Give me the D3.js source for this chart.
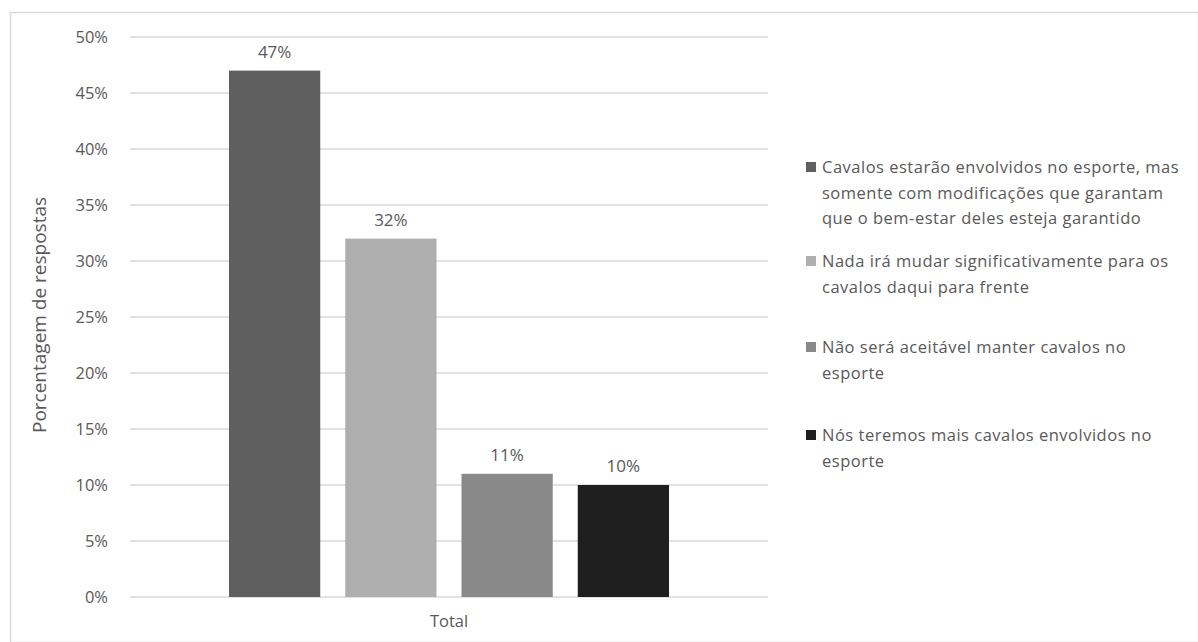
<!DOCTYPE html>
<html>
<head>
<meta charset="utf-8">
<script src="https://cdn.jsdelivr.net/npm/d3@7"></script>
<style>
  body { margin: 0; background: #fff; }
  text { font-family: "Open Sans", "Noto Sans", sans-serif; fill: #595959; }
</style>
</head>
<body>
<div id="my_dataviz"></div>
<script>
// data
var series = [
  "Cavalos estarão envolvidos no esporte, mas somente com modificações que garantam que o bem-estar deles esteja garantido",
  "Nada irá mudar significativamente para os cavalos daqui para frente",
  "Não será aceitável manter cavalos no esporte",
  "Nós teremos mais cavalos envolvidos no esporte"
];
var legendLines = [
  ["Cavalos estarão envolvidos no esporte, mas", "somente com modificações que garantam", "que o bem-estar deles esteja garantido"],
  ["Nada irá mudar significativamente para os", "cavalos daqui para frente"],
  ["Não será aceitável manter cavalos no", "esporte"],
  ["Nós teremos mais cavalos envolvidos no", "esporte"]
];
var values = [47, 32, 11, 10];
var colors = ["#5f5f5f", "#afafaf", "#898989", "#1f1f1f"];
var category = "Total";
var yTicks = [0, 5, 10, 15, 20, 25, 30, 35, 40, 45, 50];

var W = 1198, H = 642;
var margin = {top: 37, left: 130, bottom: 45, right: 430};
var width = W - margin.left - margin.right,   // 638
    height = H - margin.top - margin.bottom;  // 560

var svg = d3.select("#my_dataviz")
  .append("svg")
    .attr("width", W)
    .attr("height", H);

// outer frame
svg.append("rect")
  .attr("x", 10.5).attr("y", 12.5)
  .attr("width", W - 10).attr("height", H - 12)
  .attr("fill", "none")
  .attr("stroke", "#d9d9d9")
  .attr("stroke-width", 1.5);

var chart = svg.append("g")
  .attr("transform", "translate(" + margin.left + "," + margin.top + ")");

var y = d3.scaleLinear().domain([0, 50]).range([height, 0]);

var x0 = d3.scaleBand().domain([category]).range([0, width]);
var x1 = d3.scaleBand().domain(d3.range(values.length))
  .range([x0(category) + x0.bandwidth() / 2 - 220, x0(category) + x0.bandwidth() / 2 + 220])
  .paddingInner(0.215).paddingOuter(0);

// gridlines
chart.append("g")
  .selectAll("line")
  .data(yTicks)
  .enter().append("line")
    .attr("x1", 0).attr("x2", width)
    .attr("y1", function(d) { return y(d); })
    .attr("y2", function(d) { return y(d); })
    .attr("stroke", "#d9d9d9")
    .attr("stroke-width", 1.5);

// y axis labels
var yAxis = chart.append("g")
  .call(d3.axisLeft(y).tickValues(yTicks).tickSize(0)
    .tickFormat(function(d) { return d + "%"; }));
yAxis.select(".domain").remove();
yAxis.selectAll(".tick text")
  .style("font-size", "16.5px")
  .attr("text-anchor", "end")
  .attr("fill", "#595959")
  .attr("font-family", "Open Sans")
  .attr("x", -22);

// bars
chart.selectAll(".bar")
  .data(values)
  .enter().append("rect")
    .attr("x", function(d, i) { return x1(i); })
    .attr("y", function(d) { return y(d); })
    .attr("width", x1.bandwidth())
    .attr("height", function(d) { return height - y(d); })
    .attr("fill", function(d, i) { return colors[i]; });

// value labels
chart.selectAll(".lbl")
  .data(values)
  .enter().append("text")
    .attr("x", function(d, i) { return x1(i) + x1.bandwidth() / 2; })
    .attr("y", function(d) { return y(d) - 13; })
    .attr("text-anchor", "middle")
    .style("font-size", "17px")
    .text(function(d) { return d + "%"; });

// x label
chart.append("text")
  .attr("x", x0(category) + x0.bandwidth() / 2)
  .attr("y", height + 30)
  .attr("text-anchor", "middle")
  .style("font-size", "16.5px")
  .text(category);

// y title
svg.append("text")
  .attr("transform", "rotate(-90)")
  .attr("x", -(margin.top + height / 2) + 2)
  .attr("y", 46)
  .attr("text-anchor", "middle")
  .style("font-size", "19px")
  .text("Porcentagem de respostas");

// legend
var legendY = [173, 267, 353, 441];
var leg = svg.append("g");
legendLines.forEach(function(lines, i) {
  leg.append("rect")
    .attr("x", 806).attr("y", legendY[i] - 11)
    .attr("width", 10).attr("height", 10)
    .attr("fill", colors[i]);
  var t = leg.append("text")
    .attr("x", 822).attr("y", legendY[i])
    .style("font-size", "16.5px")
    .style("letter-spacing", "0.5px");
  lines.forEach(function(l, j) {
    t.append("tspan").attr("x", 822).attr("dy", j === 0 ? 0 : 25.5).text(l);
  });
  t.append("title").text(series[i]);
});
</script>
</body>
</html>
